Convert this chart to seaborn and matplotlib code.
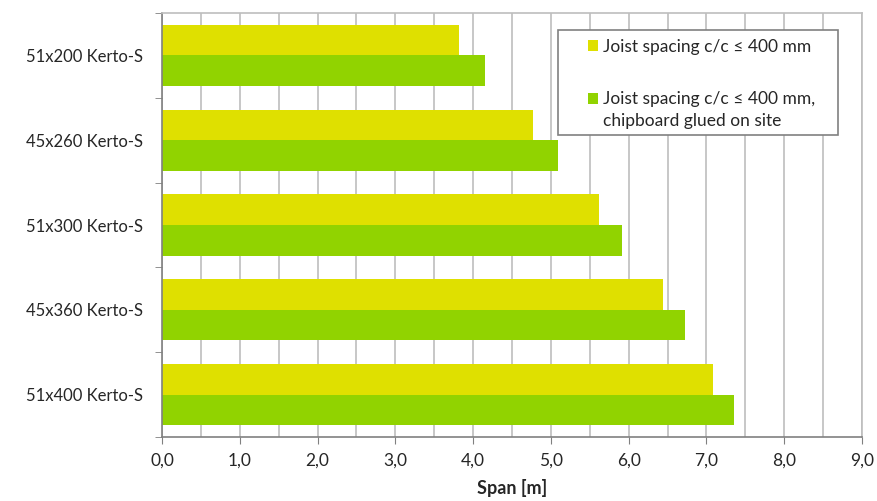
import numpy as np
import pandas as pd
import matplotlib
matplotlib.use("Agg")
import matplotlib.pyplot as plt
import seaborn as sns
from matplotlib.legend_handler import HandlerPatch
from matplotlib.patches import Rectangle
from matplotlib.ticker import FixedLocator, FuncFormatter, MultipleLocator

# Span values
BEAMS = ["51x200 Kerto-S", "45x260 Kerto-S", "51x300 Kerto-S", "45x360 Kerto-S", "51x400 Kerto-S"]
SPAN_PLAIN = [3.82, 4.77, 5.62, 6.44, 7.09]
SPAN_GLUED = [4.15, 5.09, 5.92, 6.73, 7.36]
SERIES = ["Joist spacing c/c \u2264 400 mm",
          "Joist spacing c/c \u2264 400 mm,\nchipboard glued on site"]
COLORS = ["#DFE000", "#91D300"]

df = pd.DataFrame({
    "beam": BEAMS * 2,
    "span": SPAN_PLAIN + SPAN_GLUED,
    "series": [SERIES[0]] * len(BEAMS) + [SERIES[1]] * len(BEAMS),
})


# legend square next to the first line of a (possibly multi-line) label
class FirstLineHandler(HandlerPatch):
    def __init__(self, shift, **kw):
        super().__init__(**kw)
        self.shift = shift

    def create_artists(self, legend, orig_handle, xdescent, ydescent, width, height,
                       fontsize, trans):
        p = Rectangle((-xdescent, -ydescent + self.shift), width, height,
                      facecolor=orig_handle.get_facecolor(), edgecolor="none",
                      transform=trans)
        return [p]


sns.set_style("white")
plt.rcParams["font.family"] = ["Lato", "DejaVu Sans"]

W, H = 878, 501
fig = plt.figure(figsize=(W / 100, H / 100), dpi=100)
ax = fig.add_axes([162 / W, 64 / H, 700 / W, 424 / H])

sns.barplot(data=df, x="span", y="beam", hue="series", order=BEAMS,
            hue_order=SERIES, palette=COLORS, orient="h", width=0.72,
            saturation=1, linewidth=0, ax=ax)

ax.set_xlim(0, 9)
ax.set_ylim(len(BEAMS) - 0.5, -0.5)
ax.xaxis.set_major_locator(MultipleLocator(1))
ax.xaxis.set_minor_locator(MultipleLocator(0.5))
ax.xaxis.set_major_formatter(FuncFormatter(lambda v, p: f"{v:.1f}".replace(".", ",")))
ax.grid(True, axis="x", which="both", color="#BEBEBE", linewidth=1.2)
ax.set_axisbelow(True)

ax.yaxis.set_minor_locator(FixedLocator(np.arange(-0.5, len(BEAMS), 1.0)))
ax.tick_params(axis="y", which="major", length=0, labelsize=12, pad=14)
ax.tick_params(axis="y", which="minor", length=5, color="#808080", direction="out", left=True)
ax.tick_params(axis="x", which="major", length=5, color="#808080", direction="out",
               bottom=True, labelsize=12.5, pad=6)
ax.tick_params(axis="x", which="minor", length=0)

for side in ["top", "right"]:
    ax.spines[side].set_color("#BEBEBE")
    ax.spines[side].set_linewidth(1.2)
for side in ["left", "bottom"]:
    ax.spines[side].set_color("#808080")
    ax.spines[side].set_linewidth(1.2)

ax.set_ylabel("")
ax.set_xlabel("Span [m]", fontsize=13, fontweight="bold", labelpad=8)

# legend without frame, frame drawn as a separate box behind it
handles, labels = ax.get_legend_handles_labels()
leg = ax.legend(handles, labels, loc="upper left",
                bbox_to_anchor=(588 / W, (H - 39) / H),
                bbox_transform=fig.transFigure, frameon=False, fontsize=12.5,
                handlelength=0.6, handleheight=0.6, handletextpad=0.25,
                labelspacing=2.06, borderpad=0, borderaxespad=0,
                handler_map={handles[0]: FirstLineHandler(0),
                             handles[1]: FirstLineHandler(8.3)})
for t in leg.get_texts():
    t.set_linespacing(1.48)
leg.set_zorder(6)
box = Rectangle((558 / W, (H - 135) / H), 280 / W, 105 / H,
                transform=fig.transFigure, facecolor="white",
                edgecolor="#808080", linewidth=1.2, zorder=5, clip_on=False)
ax.add_artist(box)

fig.savefig("out.png", dpi=100)
